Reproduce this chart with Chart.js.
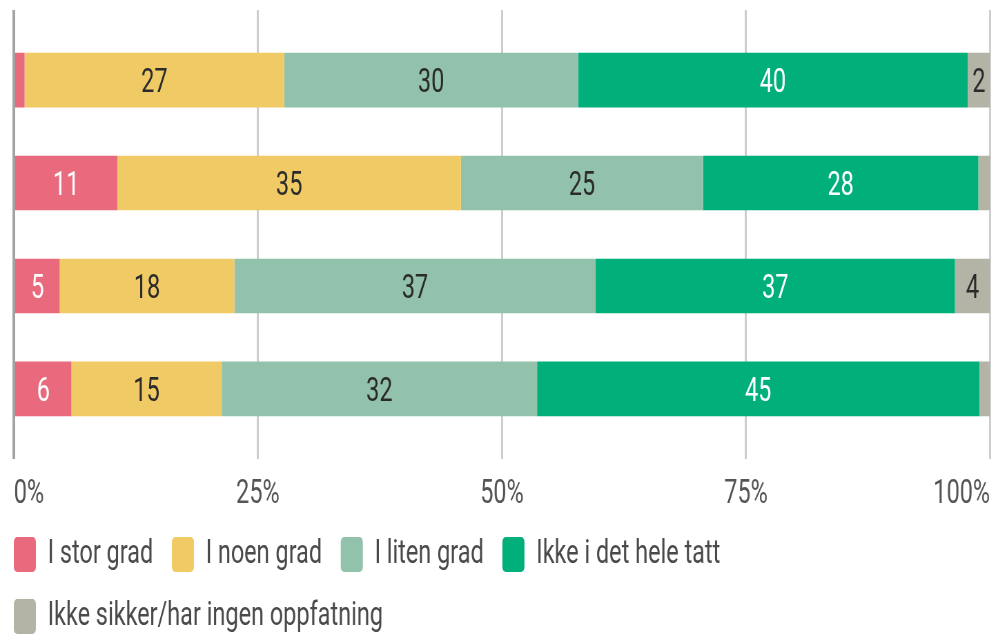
<!DOCTYPE html>
<html>
<head>
<meta charset="utf-8">
<script src="https://cdn.jsdelivr.net/npm/chart.js@4/dist/chart.umd.min.js"></script>
<style>
  html, body { margin: 0; padding: 0; background: #ffffff; overflow: hidden; }
  #wrap { width: 1446px; height: 634px; transform: scaleX(0.69018); transform-origin: 0 0; }
  #c { display: block; width: 1446px; height: 634px; }
</style>
</head>
<body>
<div id="wrap"><canvas id="c" width="1446" height="634"></canvas></div>
<script>
// Rows (no visible category labels in the chart)
const categories = ['Rad 1', 'Rad 2', 'Rad 3', 'Rad 4'];
const seriesNames = ['I stor grad', 'I noen grad', 'I liten grad', 'Ikke i det hele tatt', 'Ikke sikker/har ingen oppfatning'];
const storGrad   = [1.1, 10.6, 4.7, 5.9];
const noenGrad   = [26.6, 35.2, 17.9, 15.4];
const litenGrad  = [30.1, 24.8, 37.0, 32.3];
const ikkeHele   = [39.9, 28.2, 36.8, 45.3];
const ikkeSikker = [2.3, 1.2, 3.6, 1.1];
const xTicks = [0, 25, 50, 75, 100];

const seriesValues = [storGrad, noenGrad, litenGrad, ikkeHele, ikkeSikker];
const colors = ['#E86A7C', '#F0CA65', '#93C2AC', '#00AF7A', '#B4B4A6'];
const labelColors = ['#ffffff', '#2b2b2b', '#2b2b2b', '#ffffff', '#2b2b2b'];

const datasets = seriesValues.map((vals, si) => ({
  label: seriesNames[si],
  data: vals.map((v, i) => ({ x: v, y: i })),
  backgroundColor: colors[si],
  borderWidth: 0,
  categoryPercentage: 1,
  barPercentage: 0.53
}));

const valueLabels = {
  id: 'valueLabels',
  afterDatasetsDraw(chart) {
    const ctx = chart.ctx;
    chart.data.datasets.forEach((ds, di) => {
      const meta = chart.getDatasetMeta(di);
      meta.data.forEach((bar, i) => {
        const v = ds.data[i].x;
        if (v < 1.5) return;
        const p = bar.getCenterPoint();
        ctx.save();
        ctx.font = '400 34px Roboto';
        ctx.fillStyle = labelColors[di];
        ctx.textAlign = 'center';
        ctx.textBaseline = 'alphabetic';
        ctx.fillText(String(Math.round(v)), p.x, p.y + 12);
        ctx.restore();
      });
    });
  }
};

new Chart(document.getElementById('c'), {
  type: 'bar',
  data: { labels: categories, datasets },
  plugins: [valueLabels],
  options: {
    indexAxis: 'y',
    responsive: false,
    maintainAspectRatio: false,
    devicePixelRatio: 1,
    animation: false,
    layout: { padding: { left: -7, right: 11.5, top: 10, bottom: -10 } },
    scales: {
      x: {
        type: 'linear',
        stacked: true,
        min: 0,
        max: 100,
        afterBuildTicks: (s) => { s.ticks = xTicks.map(v => ({ value: v })); },
        afterFit: (s) => { s.height = 51; s.paddingLeft = 0; s.paddingRight = 0; },
        border: { display: false },
        grid: {
          drawTicks: false,
          color: (c) => (c.tick && c.tick.value === 0) ? '#a3a3a3' : '#cdcdcd',
          lineWidth: (c) => (c.tick && c.tick.value === 0) ? 4 : 3
        },
        ticks: {
          align: 'inner',
          padding: 15,
          color: '#555555',
          font: { family: 'Roboto', size: 34 },
          callback: (v) => v + '%'
        }
      },
      y: {
        type: 'linear',
        stacked: true,
        reverse: true,
        offset: false,
        min: -0.681,
        max: 3.681,
        afterBuildTicks: (s) => { s.ticks = categories.map((c, i) => ({ value: i })); },
        afterFit: (s) => { s.width = 27; },
        border: { display: false },
        grid: { display: false, offset: false },
        ticks: { display: false }
      }
    },
    plugins: {
      legend: {
        position: 'bottom',
        align: 'start',
        labels: {
          boxWidth: 32,
          boxHeight: 35,
          padding: 27,
          useBorderRadius: true,
          borderRadius: 5,
          color: '#4a4a4a',
          font: { family: 'Roboto', size: 34 }
        }
      },
      tooltip: { enabled: false }
    }
  }
});
</script>
</body>
</html>
